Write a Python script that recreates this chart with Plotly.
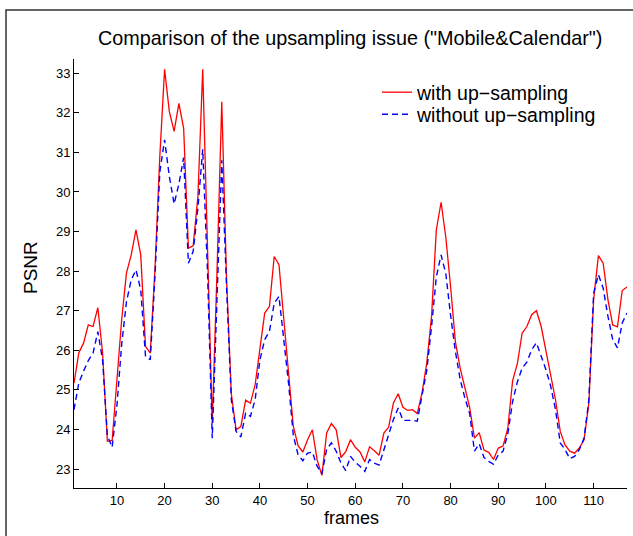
import plotly.graph_objects as go

frames = list(range(1, 118))

with_upsampling = [
    25.17, 25.93, 26.18, 26.64, 26.60, 27.08, 25.93, 23.70, 23.72, 25.20,
    26.77, 27.95, 28.41, 29.04, 28.41, 26.10, 25.93, 28.10, 30.90, 33.10,
    32.03, 31.53, 32.24, 31.61, 28.58, 28.64, 29.90, 33.10, 28.55, 24.15,
    28.00, 32.28, 27.80, 24.90, 23.99, 24.07, 24.74, 24.66, 25.13, 26.00,
    26.94, 27.11, 28.37, 28.16, 26.77, 25.42, 24.08, 23.59, 23.43, 23.74,
    23.99, 23.23, 22.84, 23.91, 24.15, 23.99, 23.29, 23.44, 23.74, 23.55,
    23.43, 23.18, 23.56, 23.46, 23.35, 23.91, 24.06, 24.67, 24.90, 24.56,
    24.48, 24.50, 24.40, 24.92, 25.68, 26.85, 29.04, 29.74, 28.85, 27.60,
    26.22, 25.55, 25.05, 24.55, 23.78, 23.92, 23.48, 23.42, 23.24, 23.53,
    23.58, 24.03, 25.23, 25.66, 26.43, 26.60, 26.90, 27.00, 26.60, 26.00,
    25.42, 24.75, 23.95, 23.61, 23.45, 23.40, 23.53, 23.74, 24.67, 27.28,
    28.39, 28.20, 27.28, 26.64, 26.59, 27.51, 27.60,
]

without_upsampling = [
    24.50, 25.17, 25.47, 25.74, 25.93, 26.47, 25.75, 23.85, 23.55, 24.60,
    26.15, 27.22, 27.78, 28.03, 27.53, 25.85, 25.76, 27.90, 30.50, 31.32,
    30.39, 29.70, 30.20, 30.87, 28.20, 28.50, 29.60, 31.08, 28.00, 23.78,
    27.30, 30.80, 27.60, 24.75, 23.95, 23.81, 24.41, 24.33, 24.75, 25.76,
    26.27, 26.48, 27.19, 27.36, 26.27, 25.17, 23.85, 23.36, 23.21, 23.40,
    23.43, 23.07, 22.88, 23.50, 23.66, 23.45, 23.15, 22.96, 23.32, 23.17,
    23.07, 22.94, 23.24, 23.15, 23.10, 23.49, 23.83, 24.25, 24.54, 24.23,
    24.23, 24.23, 24.21, 24.87, 25.50, 26.60, 27.85, 28.41, 27.93, 26.88,
    25.97, 25.27, 24.79, 24.40, 23.45, 23.64, 23.29, 23.19, 23.12, 23.36,
    23.45, 23.89, 24.70, 25.20, 25.55, 25.70, 26.01, 26.19, 25.85, 25.51,
    25.09, 24.50, 23.66, 23.49, 23.26, 23.32, 23.49, 23.78, 24.75, 27.44,
    27.91, 27.57, 26.86, 26.27, 26.06, 26.69, 26.94,
]

x_ticks = [10, 20, 30, 40, 50, 60, 70, 80, 90, 100, 110]
y_ticks = [23, 24, 25, 26, 27, 28, 29, 30, 31, 32, 33]

FONT = "Liberation Sans, Arial, Helvetica, sans-serif"

fig = go.Figure()
fig.add_trace(go.Scatter(
    x=frames, y=with_upsampling, mode="lines", name="with up\u2212sampling",
    line=dict(color="#ff0000", width=1.3), legend="legend",
))
fig.add_trace(go.Scatter(
    x=frames, y=without_upsampling, mode="lines", name="without up\u2212sampling",
    line=dict(color="#0000ff", width=1.4, dash="6px,4px"), legend="legend2",
))

W, H = 633, 536
L, R, T, B = 74, 6, 59, 48
pw, ph = W - L - R, H - T - B

def px_x(px):
    return (px - L) / pw

def px_y(py):
    return (H - B - py) / ph

legend_font = dict(size=19.5, family=FONT, color="black")

fig.update_layout(
    width=W, height=H,
    margin=dict(l=L, r=R, t=T, b=B),
    paper_bgcolor="white", plot_bgcolor="white",
    font=dict(family=FONT, color="black"),
    showlegend=True,
    legend=dict(
        x=px_x(377), y=px_y(73), xanchor="left", yanchor="top",
        bgcolor="rgba(0,0,0,0)", borderwidth=0, font=legend_font,
    ),
    legend2=dict(
        x=px_x(377), y=px_y(95), xanchor="left", yanchor="top",
        bgcolor="rgba(0,0,0,0)", borderwidth=0, font=legend_font,
    ),
    xaxis=dict(
        range=[1, 117], tickvals=x_ticks, ticks="inside", ticklen=5,
        tickcolor="black", showline=True, linecolor="black", linewidth=1,
        showgrid=False, zeroline=False, mirror=False,
        tickfont=dict(size=13, family=FONT, color="black"),
    ),
    yaxis=dict(
        range=[22.52, 33.36], tickvals=y_ticks, ticks="inside", ticklen=5,
        tickcolor="black", showline=True, linecolor="black", linewidth=1,
        showgrid=False, zeroline=False, mirror=False,
        tickfont=dict(size=13, family=FONT, color="black"),
    ),
    annotations=[
        dict(text="Comparison of the upsampling issue (\"Mobile&Calendar\")",
             xref="paper", yref="paper", x=px_x(350), y=px_y(38),
             xanchor="center", yanchor="middle", showarrow=False,
             font=dict(size=19.8, family=FONT, color="black")),
        dict(text="frames", xref="paper", yref="paper", x=px_x(351), y=px_y(518),
             xanchor="center", yanchor="middle", showarrow=False,
             font=dict(size=18, family=FONT, color="black")),
        dict(text="PSNR", xref="paper", yref="paper", x=px_x(30), y=px_y(268),
             xanchor="center", yanchor="middle", showarrow=False, textangle=-90,
             font=dict(size=19, family=FONT, color="black")),
    ],
    shapes=[
        dict(type="rect", xref="paper", yref="paper",
             x0=px_x(6), x1=px_x(W + 20), y0=px_y(H + 20), y1=px_y(10),
             line=dict(color="#333333", width=1.5), fillcolor="rgba(0,0,0,0)",
             layer="below"),
    ],
)

fig.write_html("out.html")
